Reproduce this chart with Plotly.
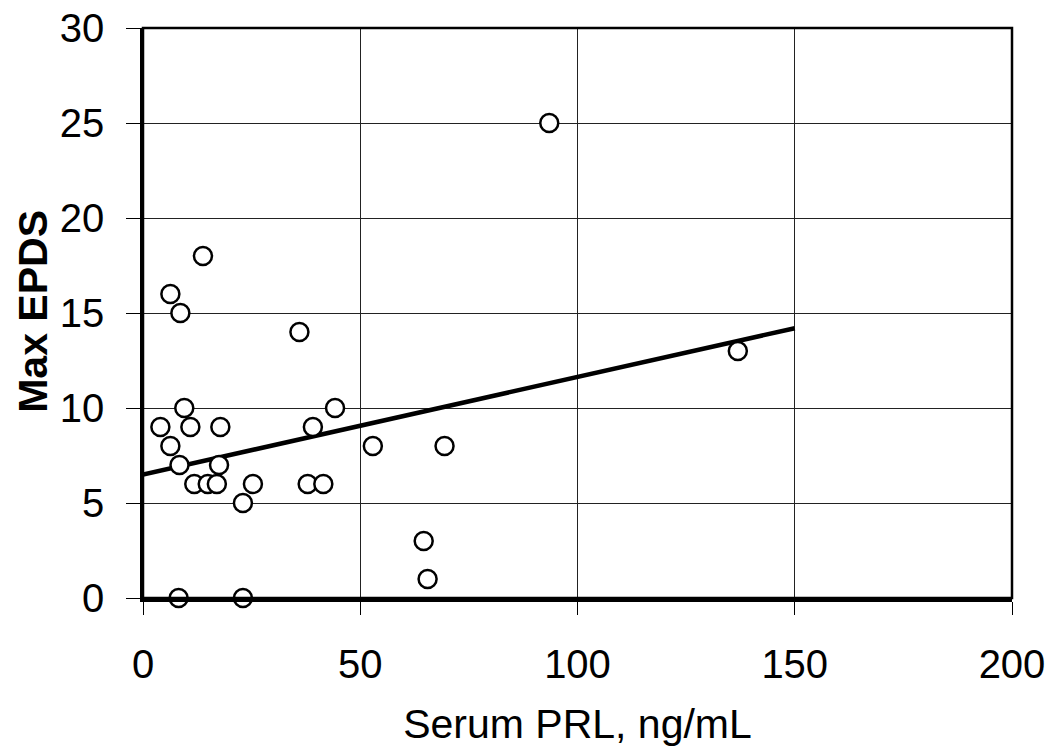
import plotly.graph_objects as go

# Data
prl = [13.8, 6.3, 8.6, 36.0, 9.5, 44.2, 4.0, 10.9, 17.8, 39.1, 6.3, 52.9,
       8.4, 17.5, 11.8, 14.9, 17.0, 25.3, 37.9, 41.5, 23.0, 8.2, 23.0,
       93.5, 136.9, 69.4, 64.6, 65.5]
epds = [18, 16, 15, 14, 10, 10, 9, 9, 9, 9, 8, 8,
        7, 7, 6, 6, 6, 6, 6, 6, 5, 0, 0,
        25, 13, 8, 3, 1]

trend_x = [0, 150]
trend_y = [6.5, 14.2]

x_ticks = [0, 50, 100, 150, 200]
y_ticks = [0, 5, 10, 15, 20, 25, 30]

font_family = "Liberation Sans, Arial, sans-serif"

fig = go.Figure()
fig.add_trace(go.Scatter(
    x=trend_x, y=trend_y, mode="lines",
    line=dict(color="black", width=4.5),
    showlegend=False, hoverinfo="skip"))
fig.add_trace(go.Scatter(
    x=prl, y=epds, mode="markers",
    marker=dict(size=18, color="white", line=dict(color="black", width=2.5)),
    showlegend=False, cliponaxis=False))

# plot frame
fig.add_shape(type="rect", xref="paper", yref="paper", x0=0, x1=1, y0=0, y1=1,
              line=dict(color="black", width=2.5), fillcolor="rgba(0,0,0,0)",
              layer="above")

# y-axis title
fig.add_annotation(text="<b>Max EPDS</b>", xref="paper", yref="paper",
                   x=-0.126, y=0.503, xanchor="center", yanchor="middle",
                   textangle=-90, showarrow=False,
                   font=dict(size=41, family=font_family, color="black"))

fig.update_layout(
    width=1047, height=741,
    margin=dict(l=135, r=43, t=20, b=151),
    paper_bgcolor="white", plot_bgcolor="white",
    font=dict(family=font_family, color="black", size=40),
)
fig.update_xaxes(
    range=[0, 200], tickvals=x_ticks, ticktext=[str(v) for v in x_ticks],
    showgrid=True, gridcolor="#222", gridwidth=1,
    showline=True, linecolor="black", linewidth=3.5, mirror=False,
    ticks="outside", ticklen=13, tickwidth=1, tickcolor="black",
    ticklabelstandoff=15, automargin=False, ticklabeloverflow="allow",
    zeroline=False,
    title=dict(text="Serum PRL, ng/mL", font=dict(size=41), standoff=26),
    tickfont=dict(size=40),
)
fig.update_yaxes(
    range=[0, 30], tickvals=y_ticks, ticktext=[str(v) for v in y_ticks],
    showgrid=True, gridcolor="#222", gridwidth=1,
    showline=True, linecolor="black", linewidth=2.5, mirror=False,
    ticks="outside", ticklen=14, tickwidth=1, tickcolor="black",
    ticklabelstandoff=14, automargin=False, ticklabeloverflow="allow",
    zeroline=False,
    tickfont=dict(size=40),
)

fig.write_html("out.html")
